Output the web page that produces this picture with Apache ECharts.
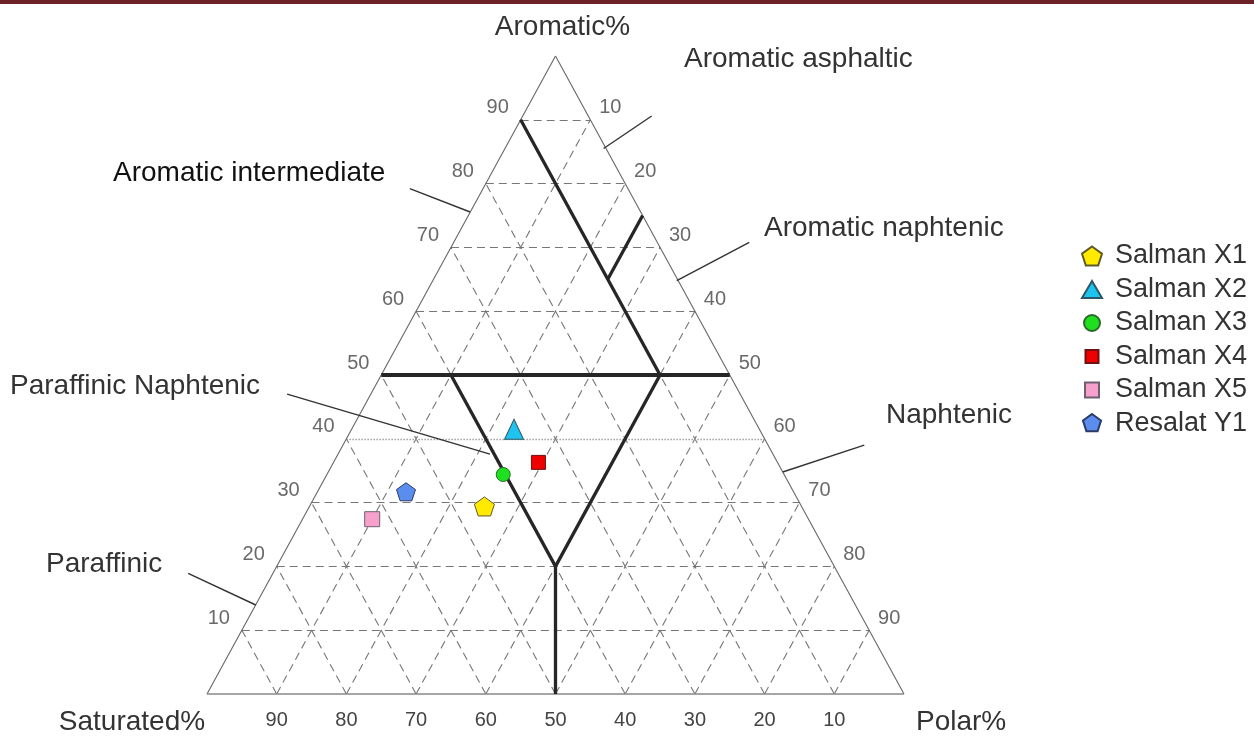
<!DOCTYPE html>
<html>
<head>
<meta charset="utf-8">
<script src="https://cdn.jsdelivr.net/npm/echarts@6/dist/echarts.min.js"></script>
<style>
html,body{margin:0;padding:0;background:#fff;}
#chart{width:1254px;height:736px;}
</style>
</head>
<body>
<div id="chart"></div>
<script>
// ---- data ----
const tickValues = [10, 20, 30, 40, 50, 60, 70, 80, 90];
const seriesNames = ['Salman X1', 'Salman X2', 'Salman X3', 'Salman X4', 'Salman X5', 'Resalat Y1'];
// samples as [Saturated%, Aromatic%, Polar%]
const salmanX1 = [45.5, 29.4, 25.1];
const salmanX2 = [35.2, 41.5, 23.3];
const salmanX3 = [40.3, 34.4, 25.3];
const salmanX4 = [34.3, 36.3, 29.4];
const salmanX5 = [62.6, 27.4, 10.0];
const resalatY1 = [55.6, 31.7, 12.7];
// classification boundaries, each [from, to] as [S, A, P]
const boundaries = [
  [[10, 90, 0], [10, 50, 40]],
  [[0, 75, 25], [10, 65, 25]],
  [[40, 50, 10], [40, 20, 40]],
  [[10, 50, 40], [40, 20, 40]],
  [[40, 20, 40], [50, 0, 50]]
];
const aromatic50 = [[50, 50, 0], [0, 50, 50]];
const dottedLevel = 40;
// region names and their pointer lines (plot units: x along base, y = aromatic)
const regionNames = ['Aromatic asphaltic', 'Aromatic naphtenic', 'Naphtenic', 'Aromatic intermediate', 'Paraffinic Naphtenic', 'Paraffinic'];
const pointerLines = [
  [[56.9, 85.5], [63.8, 90.6]],
  [[67.4, 64.8], [77.8, 70.8]],
  [[82.6, 34.8], [94.3, 39.0]],
  [[29.1, 79.2], [37.75, 75.55]],
  [[11.5, 47.0], [40.6, 37.6]],
  [[-2.7, 18.9], [7.0, 13.95]]
];

// ---- helpers ----
function tern(t) { // [S, A, P] -> [x, y]
  return [t[2] + t[1] / 2, t[1]];
}
const FONT = '"Liberation Sans", Arial, Helvetica, sans-serif';

const dashedSegs = [];
tickValues.forEach(k => {
  if (k !== 50 && k !== dottedLevel) {
    dashedSegs.push({coords: [tern([100 - k, k, 0]), tern([0, k, 100 - k])]});
  }
  dashedSegs.push({coords: [tern([k, 0, 100 - k]), tern([k, 100 - k, 0])]});
  dashedSegs.push({coords: [tern([100 - k, 0, k]), tern([0, 100 - k, k])]});
});
const dottedSegs = [{coords: [tern([100 - dottedLevel, dottedLevel, 0]), tern([0, dottedLevel, 100 - dottedLevel])]}];
const edgeSegs = [
  {coords: [tern([100, 0, 0]), tern([0, 100, 0])]},
  {coords: [tern([0, 100, 0]), tern([0, 0, 100])]}
];
const baseSeg = [{coords: [tern([100, 0, 0]), tern([0, 0, 100])]}];
const thickSegs = boundaries.map(b => ({coords: [tern(b[0]), tern(b[1])]}));
const thick50 = [{coords: [tern(aromatic50[0]), tern(aromatic50[1])]}];
const pointerSegs = pointerLines.map(p => ({coords: p}));

const leftLabels = tickValues.map(k => [...tern([100 - k, k, 0]), k]);
const rightLabels = tickValues.map(k => [...tern([0, 100 - k, k]), k]);

const pentagon = 'path://M0,-10 L9.511,-3.09 L5.878,8.09 L-5.878,8.09 L-9.511,-3.09 Z';
// legend icons: shape drawn inside a fixed 20x20 frame (frame corners are zero-length, invisible)
const FR = 'M-10,-10 L-10,-10 M10,10 L10,10 ';
const legendIcons = [
  pentagon,
  'path://M0,-8.5 L10,8.5 L-10,8.5 Z',
  'path://' + FR + 'M8,0 A8,8 0 1,1 -8,0 A8,8 0 1,1 8,0 Z',
  'path://' + FR + 'M-6.5,-6.5 L6.5,-6.5 L6.5,6.5 L-6.5,6.5 Z',
  'path://' + FR + 'M-7,-7.5 L7,-7.5 L7,7.5 L-7,7.5 Z',
  'path://' + FR + 'M0,-9.5 L9.035,-2.936 L5.584,7.686 L-5.584,7.686 L-9.035,-2.936 Z'
];
const samples = [salmanX1, salmanX2, salmanX3, salmanX4, salmanX5, resalatY1];
const styles = [
  {symbol: pentagon, size: 20, color: '#ffea00', border: '#5e5a2a'},
  {symbol: 'triangle', size: [19, 20], color: '#1ec3ef', border: '#2d5866'},
  {symbol: 'circle', size: 14, color: '#1fe01f', border: '#2b6a2b'},
  {symbol: 'rect', size: 14, color: '#ee0000', border: '#701010'},
  {symbol: 'rect', size: 15, color: '#f7a0cb', border: '#6e6070'},
  {symbol: pentagon, size: 19, color: '#5b8def', border: '#2b3a66'}
];
const sampleSeries = samples.map((s, i) => ({
  name: seriesNames[i],
  type: 'scatter',
  z: 10,
  symbol: styles[i].symbol,
  symbolSize: styles[i].size,
  symbolKeepAspect: true,
  itemStyle: {color: styles[i].color, borderColor: styles[i].border, borderWidth: 1, opacity: 1},
  data: [tern(s)]
}));

function linesSeries(data, style, z) {
  return {type: 'lines', coordinateSystem: 'cartesian2d', polyline: false, silent: true,
    clip: false, z: z, lineStyle: Object.assign({opacity: 1, curveness: 0}, style), data: data};
}
function labelSeries(data, offset) {
  return {type: 'scatter', symbolSize: 0, silent: true, z: 3, data: data,
    label: {show: true, position: 'inside', offset: offset, formatter: p => String(p.value[2]),
      color: '#444', fontSize: 20, fontFamily: FONT}};
}

const textPos = [
  {x: 684, y: 59}, {x: 764, y: 228}, {x: 886, y: 415},
  {x: 113, y: 173}, {x: 10, y: 386}, {x: 46, y: 564}
];
const graphics = [
  {type: 'rect', shape: {x: 0, y: 0, width: 1254, height: 4}, style: {fill: '#6b2226'}, silent: true},
  {type: 'text', style: {text: 'Aromatic%', x: 562.5, y: 27, align: 'center', verticalAlign: 'middle', fontSize: 28, fontFamily: FONT, fill: '#333'}},
  {type: 'text', style: {text: 'Saturated%', x: 132, y: 722, align: 'center', verticalAlign: 'middle', fontSize: 28, fontFamily: FONT, fill: '#333'}},
  {type: 'text', style: {text: 'Polar%', x: 916, y: 722, align: 'left', verticalAlign: 'middle', fontSize: 28, fontFamily: FONT, fill: '#333'}}
];
regionNames.forEach((n, i) => {
  graphics.push({type: 'text', style: {text: n, x: textPos[i].x, y: textPos[i].y, align: 'left', verticalAlign: 'middle',
    fontSize: 28, fontFamily: FONT, fill: n === 'Aromatic intermediate' ? '#111' : '#333'}});
});

const chart = echarts.init(document.getElementById('chart'), null, {renderer: 'canvas'});
chart.setOption({
  animation: false,
  backgroundColor: '#fff',
  textStyle: {fontFamily: FONT},
  grid: {left: 207, top: 56, width: 697, height: 638},
  xAxis: {type: 'value', min: 0, max: 100, interval: 10,
    axisLine: {show: false}, axisTick: {show: false}, splitLine: {show: false},
    axisLabel: {show: true, margin: 16, color: '#444', fontSize: 20, fontFamily: FONT,
      formatter: v => (v > 0 && v < 100) ? String(100 - v) : ''}},
  yAxis: {type: 'value', min: 0, max: 100, show: false, splitLine: {show: false}},
  legend: {
    orient: 'vertical', left: 1076, top: 237, padding: 5, itemWidth: 20, itemHeight: 20, itemGap: 5.5,
    symbolKeepAspect: true,
    data: seriesNames.map((n, i) => ({name: n, icon: legendIcons[i]})),
    textStyle: {fontSize: 27, lineHeight: 28, color: '#333', fontFamily: FONT, padding: [0, 0, 0, 8]},
    selectedMode: false
  },
  graphic: graphics,
  series: [
    linesSeries(dashedSegs, {color: '#767676', width: 1.1, type: [8, 5]}, 1),
    linesSeries(dottedSegs, {color: '#a0a0a0', width: 1.3, type: [1.5, 1.5]}, 1),
    linesSeries(edgeSegs, {color: '#666', width: 1.1, type: 'solid'}, 2),
    linesSeries(baseSeg, {color: '#888', width: 1.6, type: 'solid'}, 2),
    linesSeries(thickSegs, {color: '#262626', width: 3.3, type: 'solid'}, 4),
    linesSeries(thick50, {color: '#262626', width: 4, type: 'solid'}, 4),
    linesSeries(pointerSegs, {color: '#333', width: 1.4, type: 'solid'}, 4),
    labelSeries(leftLabels, [-23, -12]),
    labelSeries(rightLabels, [20, -12])
  ].concat(sampleSeries)
});
</script>
</body>
</html>
